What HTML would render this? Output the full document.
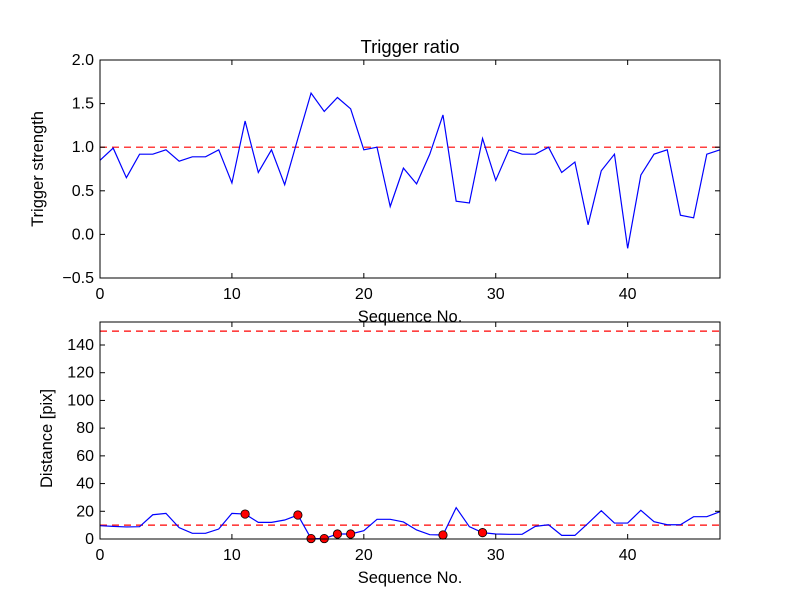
<!DOCTYPE html>
<html><head><meta charset="utf-8"><style>body{margin:0;background:#fff}svg{display:block}text{font-family:"Liberation Sans",sans-serif;fill:#000}</style></head>
<body>
<svg id="c" width="800" height="600"></svg>
<script>
const seq=[...Array(48).keys()];
const ratio=[0.85,0.99,0.65,0.92,0.92,0.97,0.84,0.89,0.89,0.97,0.59,1.30,0.71,0.97,0.57,1.10,1.62,1.41,1.57,1.44,0.97,1.0,0.32,0.76,0.58,0.92,1.37,0.38,0.36,1.10,0.62,0.97,0.92,0.92,1.0,0.71,0.83,0.11,0.73,0.92,-0.16,0.68,0.92,0.97,0.22,0.19,0.92,0.97];
const dist=[9.6,9.1,8.7,8.9,17.5,18.5,8.2,4.1,4.1,7.2,18.5,18,12,12,13.7,17.3,0.3,0.3,3.6,3.6,6,14.2,14.2,12.3,6.5,3.1,2.9,22.6,8.9,4.6,3.6,3.4,3.4,9.1,10.3,2.6,2.6,11.3,20.4,11.5,11.5,20.7,12.5,10.3,10.3,16.1,16.1,19.7];
const flagged=[11,15,16,17,18,19,26,29];
const xTicks=[0,10,20,30,40];
const topTicks=[-0.5,0.0,0.5,1.0,1.5,2.0];
const botTicks=[0,20,40,60,80,100,120,140];
const topRef=[1.0], botRef=[10,150];
const svg=document.getElementById('c');const NS='http://www.w3.org/2000/svg';
function el(t,a,txt){const e=document.createElementNS(NS,t);for(const k in a)e.setAttribute(k,a[k]);if(txt!==undefined)e.textContent=txt;svg.appendChild(e);return e;}
const X0=100,X1=720;const sx=v=>X0+v*(X1-X0)/47;
function panel(name,T,B,ymin,ymax,yt,fmt,data,refs,ylabel){
 const sy=v=>B-(v-ymin)*(B-T)/(ymax-ymin);
 refs.forEach(r=>{const l=el('line',{x1:X0,x2:X1,y1:sy(r),y2:sy(r),stroke:'#f00','stroke-width':1.2,'stroke-dasharray':'7,5'});
 
 });
 const p=el('polyline',{points:data.map((v,i)=>sx(seq[i])+','+sy(v)).join(' '),fill:'none',stroke:'#00f','stroke-width':1.2});
 
 
 if(name==='distance'){flagged.forEach(i=>{const c=el('circle',{cx:sx(i),cy:sy(data[i]),r:4.2,fill:'#f00',stroke:'#000','stroke-width':0.8});
 
 });}
 const f=el('rect',{x:X0,y:T,width:X1-X0,height:B-T,fill:'none',stroke:'#000','stroke-width':1});
 
 
 xTicks.forEach(t=>{const x=sx(t);el('line',{x1:x,x2:x,y1:B,y2:B-5,stroke:'#000'});el('line',{x1:x,x2:x,y1:T,y2:T+5,stroke:'#000'});
 const l=el('text',{x:x,y:B+21,'text-anchor':'middle','font-size':16},t);
 
 });
 yt.forEach(t=>{const y=sy(t);el('line',{x1:X0,x2:X0+5,y1:y,y2:y,stroke:'#000'});el('line',{x1:X1,x2:X1-5,y1:y,y2:y,stroke:'#000'});
 const l=el('text',{x:X0-6,y:y+5,'text-anchor':'end','font-size':16},fmt(t));
 
 });
 const xl=el('text',{x:410,y:B+44,'text-anchor':'middle','font-size':16.5},'Sequence No.');
 
 
 const yl=el('text',{x:0,y:0,'text-anchor':'middle','font-size':16.5,transform:`translate(${name==='distance'?52:43},${(T+B)/2+(name==='distance'?8:0)}) rotate(-90)`},ylabel);
 
 
}
panel('ratio',60,278,-0.5,2.0,topTicks,t=>t.toFixed(1).replace('-','−'),ratio,topRef,'Trigger strength');
panel('distance',322,539,0,156.6,botTicks,t=>String(t),dist,botRef,'Distance [pix]');
const ti=el('text',{x:410,y:53,'text-anchor':'middle','font-size':18.5},'Trigger ratio');


</script>
</body></html>
